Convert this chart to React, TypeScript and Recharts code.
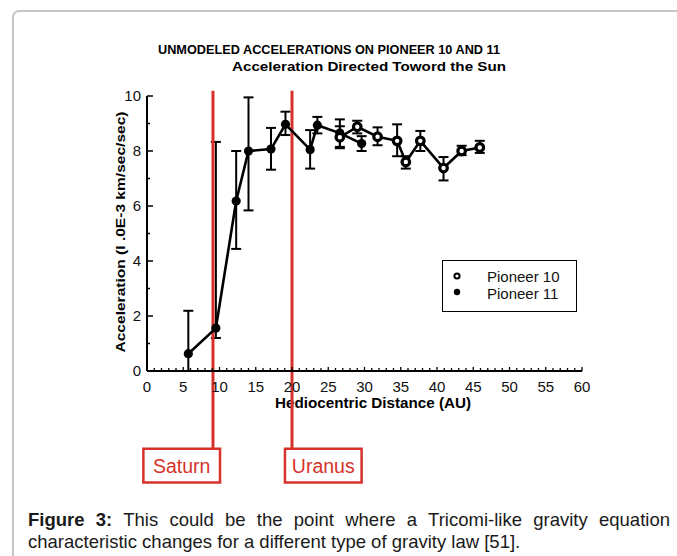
import {
  ScatterChart,
  Scatter,
  XAxis,
  YAxis,
  ErrorBar,
  ReferenceLine,
  ReferenceArea,
  Legend,
} from "recharts";

// Pioneer 11 (filled markers)
const p11Dist = [5.7, 9.5, 12.3, 14.0, 17.1, 19.1, 22.5, 23.5, 26.6, 29.6];
const p11Acc = [0.63, 1.56, 6.18, 8.0, 8.07, 8.97, 8.05, 8.94, 8.65, 8.27];
const p11Low = [0, 1.2, 4.44, 5.84, 7.32, 8.58, 7.36, 8.64, 8.15, 8.0];
const p11High = [2.19, 8.33, 8.0, 9.95, 8.84, 9.43, 8.76, 9.24, 9.15, 8.54];

// Pioneer 10 (open markers)
const p10Dist = [26.6, 29.0, 31.8, 34.5, 35.7, 37.7, 40.9, 43.4, 45.9];
const p10Acc = [8.5, 8.88, 8.52, 8.37, 7.6, 8.37, 7.38, 8.0, 8.13];
const p10Low = [8.1, 8.64, 8.21, 7.81, 7.36, 8.0, 6.93, 7.85, 7.93];
const p10High = [8.9, 9.1, 8.86, 8.97, 7.81, 8.73, 7.78, 8.19, 8.37];

const xTicks = Array.from({ length: 61 }, (_, i) => i);
const yTicks = [0, 1, 2, 3, 4, 5, 6, 7, 8, 9, 10];

const planets = [
  { name: "Saturn", au: 9.1, boxFrom: -0.5, boxTo: 10.07 },
  { name: "Uranus", au: 20.0, boxFrom: 19.03, boxTo: 29.6 },
];

const toPoints = (xs: number[], ys: number[], lo: number[], hi: number[]) =>
  xs.map((x, i) => ({ x, y: ys[i], err: [ys[i] - lo[i], hi[i] - ys[i]] }));

const p11 = toPoints(p11Dist, p11Acc, p11Low, p11High);
const p10 = toPoints(p10Dist, p10Acc, p10Low, p10High);

const W = 677;
const H = 500;
const PLOT_LEFT = 147;
const PLOT_RIGHT = 582;
const PLOT_TOP = 96;
const PLOT_BOTTOM = 371;
const Y_AXIS_W = 40;
const X_AXIS_H = 30;
const RED = "#d6322b";
const FONT = "'Liberation Sans', Arial, sans-serif";

function XTick({ x, payload }: any) {
  const v = payload.value as number;
  const major = v % 5 === 0;
  return (
    <g>
      <line x1={x} x2={x} y1={PLOT_BOTTOM} y2={PLOT_BOTTOM - (major ? 4 : 3)} stroke="#000" strokeWidth={1.3} />
      {major && (
        <text x={x} y={PLOT_BOTTOM + 21} textAnchor="middle" fontSize={15} fontFamily={FONT} fill="#111">
          {v}
        </text>
      )}
    </g>
  );
}

function YTick({ y, payload }: any) {
  const v = payload.value as number;
  const major = v % 2 === 0;
  return (
    <g>
      <line x1={PLOT_LEFT} x2={PLOT_LEFT + (major ? 6 : 3)} y1={y} y2={y} stroke="#000" strokeWidth={1.5} />
      {major && (
        <text x={141} y={y + 5} textAnchor="end" fontSize={15} fontFamily={FONT} fill="#111">
          {v}
        </text>
      )}
    </g>
  );
}

const FilledDot = (props: any) => <circle cx={props.cx} cy={props.cy} r={4.6} fill="#000" />;
const OpenDot = (props: any) => (
  <circle cx={props.cx} cy={props.cy} r={3.8} fill="#fff" stroke="#000" strokeWidth={3.2} />
);

function LegendBox() {
  return (
    <div
      style={{
        width: 133,
        height: 50,
        border: "1.5px solid #000",
        background: "#fff",
        fontFamily: FONT,
        fontSize: 15,
        color: "#111",
        position: "relative",
      }}
    >
      <svg width={20} height={50} style={{ position: "absolute", left: 6, top: 0 }}>
        <circle cx={8} cy={15} r={2.6} fill="#fff" stroke="#000" strokeWidth={2} />
        <circle cx={8} cy={31} r={3.2} fill="#000" />
      </svg>
      <div style={{ position: "absolute", left: 44, top: 7, lineHeight: "17px" }}>Pioneer 10</div>
      <div style={{ position: "absolute", left: 44, top: 24, lineHeight: "17px" }}>Pioneer 11</div>
    </div>
  );
}

export default function App() {
  return (
    <div style={{ position: "absolute", left: 0, top: 0, width: W, height: 556, background: "#fff", overflow: "hidden" }}>
      <div
        style={{
          position: "absolute",
          left: 12,
          top: 10,
          width: 700,
          height: 600,
          border: "2px solid #c6c6c6",
          borderRadius: 7,
          boxSizing: "border-box",
        }}
      />
      <svg width={W} height={556} style={{ position: "absolute", left: 0, top: 0 }}>
        <g fontFamily={FONT} fontWeight="bold" fill="#000">
          <text x={158} y={54} fontSize={12.5} textLength={342} lengthAdjust="spacingAndGlyphs">
            UNMODELED ACCELERATIONS ON PIONEER 10 AND 11
          </text>
          <text x={232} y={70.5} fontSize={12.5} textLength={274} lengthAdjust="spacingAndGlyphs">
            Acceleration Directed Toword the Sun
          </text>
          <text
            x={0}
            y={0}
            transform="translate(125,232) rotate(-90)"
            textAnchor="middle"
            fontSize={13.5}
            textLength={241}
            lengthAdjust="spacingAndGlyphs"
          >
            Acceleration (I .0E-3 km/sec/sec)
          </text>
          <text x={373} y={407.5} textAnchor="middle" fontSize={15} textLength={196} lengthAdjust="spacingAndGlyphs">
            Hediocentric Distance (AU)
          </text>
        </g>
      </svg>
      <div style={{ position: "absolute", left: 0, top: 0 }}>
        <ScatterChart
          width={W}
          height={H}
          margin={{
            top: PLOT_TOP,
            right: W - PLOT_RIGHT,
            left: PLOT_LEFT - Y_AXIS_W,
            bottom: H - PLOT_BOTTOM - X_AXIS_H,
          }}
        >
          <XAxis
            type="number"
            dataKey="x"
            domain={[0, 60]}
            ticks={xTicks}
            interval={0}
            tick={<XTick />}
            tickLine={false}
            axisLine={{ stroke: "#000", strokeWidth: 2 }}
            height={X_AXIS_H}
          />
          <YAxis
            type="number"
            dataKey="y"
            domain={[0, 10]}
            ticks={yTicks}
            interval={0}
            tick={<YTick />}
            tickLine={false}
            axisLine={{ stroke: "#000", strokeWidth: 2 }}
            width={Y_AXIS_W}
          />
          <Legend
            layout="vertical"
            align="center"
            verticalAlign="middle"
            content={<LegendBox />}
            wrapperStyle={{ position: "absolute", left: 442, top: 260, width: 136, height: 53 }}
          />
          <Scatter
            name="Pioneer 11"
            data={p11}
            line={{ stroke: "#000", strokeWidth: 2.6 }}
            shape={<FilledDot />}
            isAnimationActive={false}
          >
            <ErrorBar dataKey="err" direction="y" width={5} stroke="#000" strokeWidth={2} />
          </Scatter>
          <Scatter
            name="Pioneer 10"
            data={p10}
            line={{ stroke: "#000", strokeWidth: 2.6 }}
            shape={<OpenDot />}
            isAnimationActive={false}
          >
            <ErrorBar dataKey="err" direction="y" width={5} stroke="#000" strokeWidth={2} />
          </Scatter>
          {planets.map((p) => (
            <ReferenceArea
              key={p.name + "box"}
              x1={p.boxFrom}
              x2={p.boxTo}
              y1={-4.05}
              y2={-2.83}
              ifOverflow="visible"
              fill="#fff"
              fillOpacity={1}
              stroke={RED}
              strokeWidth={2.5}
              label={{ value: p.name, position: "center", fill: RED, fontSize: 19.5, fontFamily: FONT }}
            />
          ))}
          {planets.map((p) => (
            <ReferenceLine
              key={p.name}
              segment={[
                { x: p.au, y: -2.83 },
                { x: p.au, y: 10.19 },
              ]}
              ifOverflow="visible"
              stroke={RED}
              strokeWidth={3}
            />
          ))}
        </ScatterChart>
      </div>
      <div
        style={{
          position: "absolute",
          left: 28,
          top: 509,
          width: 642,
          fontFamily: "'Liberation Sans Narrow', 'Arial Narrow', Arial, sans-serif",
          fontSize: 18.5,
          lineHeight: "22px",
          color: "#1a1a1a",
        }}
      >
        <div style={{ textAlign: "justify", textAlignLast: "justify", whiteSpace: "nowrap" as any }}>
          <b>Figure 3:</b> This could be the point where a Tricomi-like gravity equation
        </div>
        <div style={{ whiteSpace: "nowrap" }}>characteristic changes for a different type of gravity law [51].</div>
      </div>
    </div>
  );
}
